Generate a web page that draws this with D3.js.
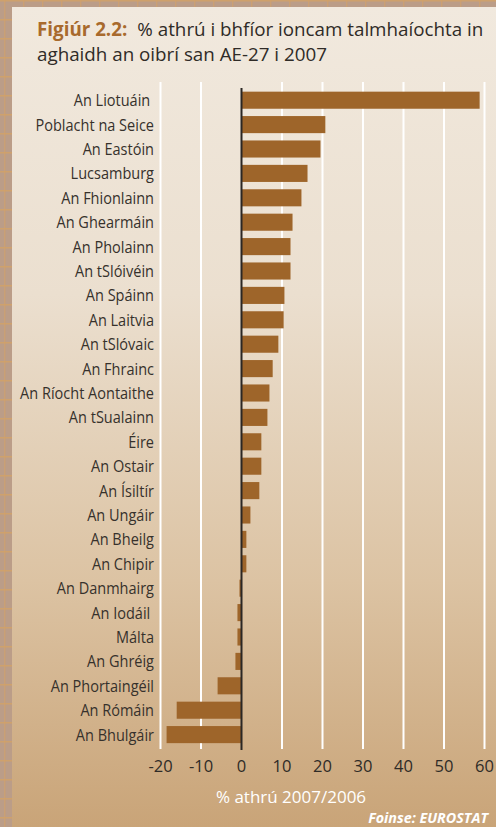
<!DOCTYPE html>
<html lang="ga">
<head>
<meta charset="UTF-8">
<title>Figiúr 2.2</title>
<script src="https://d3js.org/d3.v7.min.js"></script>
<style>
  html, body { margin: 0; padding: 0; background: #bb9d88; }
  svg { display: block; font-family: "Open Sans", "Noto Sans", sans-serif; }
  text { white-space: pre; }
</style>
</head>
<body>
<div id="chart"></div>
<script>
  var width = 496, height = 827;

  // data (% change 2007/2006)
  var countries = ['An Liotuáin ', 'Poblacht na Seice', 'An Eastóin', 'Lucsamburg', 'An Fhionlainn',
                   'An Ghearmáin', 'An Pholainn', 'An tSlóivéin', 'An Spáinn', 'An Laitvia',
                   'An tSlóvaic', 'An Fhrainc', 'An Ríocht Aontaithe', 'An tSualainn', 'Éire',
                   'An Ostair', 'An Ísiltír', 'An Ungáir', 'An Bheilg', 'An Chipir',
                   'An Danmhairg', 'An Iodáil ', 'Málta', 'An Ghréig', 'An Phortaingéil',
                   'An Rómáin', 'An Bhulgáir'];
  var changes = [58.8, 20.7, 19.5, 16.3, 14.8,
                 12.6, 12.1, 12.1, 10.6, 10.4,
                 9.1, 7.7, 6.9, 6.4, 4.9,
                 4.9, 4.4, 2.2, 1.2, 1.2,
                 -0.5, -1.0, -1.0, -1.5, -5.9,
                 -16.0, -18.5];
  var xTicks = [-20, -10, 0, 10, 20, 30, 40, 50, 60];

  var svg = d3.select("#chart").append("svg")
      .attr("width", width).attr("height", height);

  var defs = svg.append("defs");
  var grad = defs.append("linearGradient").attr("id", "panelGrad")
      .attr("x1", 0).attr("y1", 0).attr("x2", 0).attr("y2", 1);
  grad.append("stop").attr("offset", "0%").attr("stop-color", "#f1e9de");
  grad.append("stop").attr("offset", "35%").attr("stop-color", "#ebdfcf");
  grad.append("stop").attr("offset", "70%").attr("stop-color", "#dcc3a3");
  grad.append("stop").attr("offset", "100%").attr("stop-color", "#c9a478");

  // textured outer frame
  var bg = svg.append("g");
  bg.append("rect").attr("width", width).attr("height", height).attr("fill", "#bb9d88");
  d3.range(0, height, 19).forEach(function(y) {
    bg.append("rect").attr("x", 0).attr("y", y).attr("width", width).attr("height", 1.5)
      .attr("fill", "#d3a267").attr("opacity", 0.8);
  });
  d3.range(4, width, 19).forEach(function(x) {
    bg.append("rect").attr("x", x).attr("y", 0).attr("width", 1.5).attr("height", height)
      .attr("fill", "#d3a267").attr("opacity", 0.6);
  });

  // panel
  svg.append("rect").attr("x", 12).attr("y", 7).attr("width", width - 12).attr("height", height - 7)
      .attr("fill", "url(#panelGrad)");

  // title
  var title = svg.append("text").attr("x", 37).attr("y", 36)
      .style("font-size", "18.8px").attr("fill", "#2f2b27");
  title.append("tspan").attr("fill", "#a86a2d").style("font-weight", "bold").text("Figiúr 2.2:");
  title.append("tspan").attr("dx", 10).text("% athrú i bhfíor ioncam talmhaíochta in");
  svg.append("text").attr("x", 37).attr("y", 61)
      .style("font-size", "18.8px").attr("fill", "#2f2b27")
      .text("aghaidh an oibrí san AE-27 i 2007");

  var x = d3.scaleLinear().domain([-20, 60]).range([160.5, 484.5]);
  var y = d3.scaleBand().domain(countries).range([88, 88 + 27 * 24.4])
      .paddingInner(0.3).paddingOuter(0.15);

  // gridlines
  svg.append("g").selectAll("line")
    .data(xTicks.filter(function(d) { return d !== 0; }))
    .join("line")
      .attr("x1", function(d) { return x(d); }).attr("x2", function(d) { return x(d); })
      .attr("y1", 82).attr("y2", 749)
      .attr("stroke", "#ffffff").attr("stroke-width", 2);

  // bars
  svg.append("g").selectAll("rect")
    .data(countries)
    .join("rect")
      .attr("x", function(d, i) { return x(Math.min(0, changes[i])); })
      .attr("y", function(d) { return y(d); })
      .attr("width", function(d, i) { return Math.abs(x(changes[i]) - x(0)); })
      .attr("height", y.bandwidth())
      .attr("fill", "#9e652a");

  // zero line
  svg.append("line")
      .attr("x1", x(0)).attr("x2", x(0)).attr("y1", 88).attr("y2", 750)
      .attr("stroke", "#2b2724").attr("stroke-width", 2);

  // category labels (narrow face, so squeeze horizontally)
  svg.append("g").selectAll("text")
    .data(countries)
    .join("text")
      .attr("transform", function(d) {
        return "translate(154," + (y(d) + y.bandwidth() / 2) + ") scale(0.88,1)";
      })
      .attr("dy", "0.36em")
      .attr("text-anchor", "end")
      .style("font-size", "16.5px")
      .attr("fill", "#36312c")
      .text(function(d) { return d; });

  // x tick labels
  svg.append("g").selectAll("text")
    .data(xTicks)
    .join("text")
      .attr("x", function(d) { return x(d); })
      .attr("y", 766).attr("dy", "0.35em")
      .attr("text-anchor", "middle")
      .style("font-size", "16.5px")
      .attr("fill", "#2f2b27")
      .text(function(d) { return d; });

  // axis title
  svg.append("text")
      .attr("x", 291).attr("y", 797).attr("dy", "0.35em")
      .attr("text-anchor", "middle")
      .style("font-size", "17px")
      .attr("fill", "#ffffff")
      .text("% athrú 2007/2006");

  // source
  svg.append("text")
      .attr("x", 488).attr("y", 823)
      .attr("text-anchor", "end")
      .style("font-size", "14.3px").style("font-weight", "bold").style("font-style", "italic")
      .attr("fill", "#ffffff")
      .text("Foinse: EUROSTAT");
</script>
</body>
</html>
